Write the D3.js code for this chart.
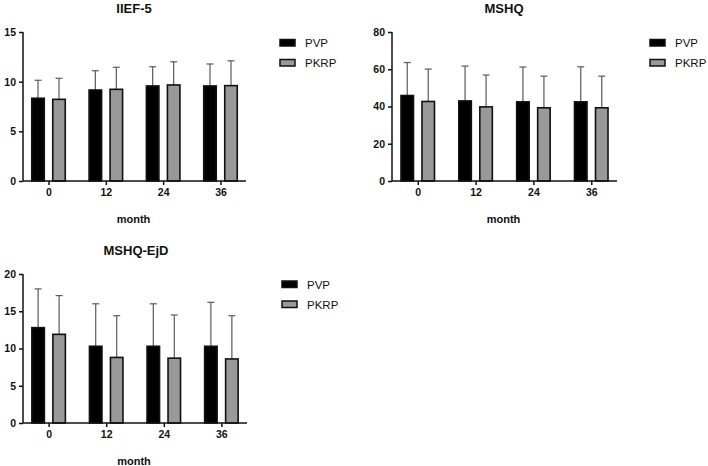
<!DOCTYPE html>
<html>
<head>
<meta charset="utf-8">
<script src="https://cdn.jsdelivr.net/npm/d3@7"></script>
<style>
  html, body { margin: 0; padding: 0; background: #fff; }
  svg { display: block; font-family: "Liberation Sans", Arial, sans-serif; }
</style>
</head>
<body>
<svg id="chart" width="708" height="466"></svg>
<script>
// ---------- DATA ----------
const months = ["0", "12", "24", "36"];
const groups = ["PVP", "PKRP"];

const iiefPVP = [8.33, 9.16, 9.57, 9.57];
const iiefPVPsd = [1.81, 1.94, 1.93, 2.21];
const iiefPKRP = [8.22, 9.23, 9.67, 9.60];
const iiefPKRPsd = [2.12, 2.22, 2.33, 2.50];

const mshqPVP = [45.9, 43.0, 42.5, 42.5];
const mshqPVPsd = [17.7, 18.7, 18.7, 18.8];
const mshqPKRP = [42.7, 39.8, 39.3, 39.3];
const mshqPKRPsd = [17.4, 17.1, 17.0, 17.0];

const ejdPVP = [12.8, 10.3, 10.3, 10.3];
const ejdPVPsd = [5.2, 5.7, 5.7, 5.9];
const ejdPKRP = [11.9, 8.8, 8.7, 8.6];
const ejdPKRPsd = [5.2, 5.6, 5.8, 5.8];

const iiefTicks = [0, 5, 10, 15];
const mshqTicks = [0, 20, 40, 60, 80];
const ejdTicks = [0, 5, 10, 15, 20];

const titles = ["IIEF-5", "MSHQ", "MSHQ-EjD"];
const xLabel = "month";

// ---------- LAYOUT / STYLE ----------
const fills = { PVP: "#000000", PKRP: "#999999" };
const svg = d3.select("#chart");

function panel(cfg) {
  const g = svg.append("g");
  const x = d3.scalePoint().domain(months).range([cfg.x0, cfg.x1]).padding(0.445);
  const xi = d3.scaleBand().domain(groups).range([-17.5, 17.5]).paddingInner(1 / 3);
  const y = d3.scaleLinear().domain([0, cfg.ticks[cfg.ticks.length - 1]]).range([cfg.yB, cfg.yT]);

  const rows = [];
  months.forEach((m, i) => {
    rows.push({ m, grp: "PVP", v: cfg.pvp[i], sd: cfg.pvpSd[i] });
    rows.push({ m, grp: "PKRP", v: cfg.pkrp[i], sd: cfg.pkrpSd[i] });
  });

  // error bars (upper only)
  const eb = g.append("g").attr("stroke", "#5a5a5a").attr("stroke-width", 1.2).attr("fill", "none");
  rows.forEach(r => {
    const cx = x(r.m) + xi(r.grp) + xi.bandwidth() / 2;
    eb.append("line").attr("x1", cx).attr("x2", cx).attr("y1", y(r.v)).attr("y2", y(r.v + r.sd));
    eb.append("line").attr("x1", cx - 3.5).attr("x2", cx + 3.5).attr("y1", y(r.v + r.sd)).attr("y2", y(r.v + r.sd));
  });

  // bars
  g.append("g").selectAll("rect").data(rows).join("rect")
    .attr("x", d => x(d.m) + xi(d.grp) + 0.75)
    .attr("y", d => y(d.v))
    .attr("width", xi.bandwidth() - 1.5)
    .attr("height", d => y(0) - y(d.v))
    .attr("fill", d => fills[d.grp])
    .attr("stroke", "#111")
    .attr("stroke-width", 1.6);

  // y axis
  const ya = g.append("g").attr("transform", `translate(${cfg.x0},0)`)
    .call(d3.axisLeft(y).tickValues(cfg.ticks).tickSize(4).tickPadding(3).tickFormat(d3.format("d")));
  ya.select(".domain").attr("stroke", "#111").attr("stroke-width", 1.5).attr("d", `M0,${cfg.yT}V${cfg.yB}`);
  ya.selectAll(".tick line").attr("stroke", "#111").attr("stroke-width", 1.5);
  ya.selectAll("text").attr("font-size", 10.5).attr("font-weight", "bold").attr("fill", "#111");

  // x axis
  const xa = g.append("g").attr("transform", `translate(0,${cfg.yB})`)
    .call(d3.axisBottom(x).tickSize(4).tickPadding(4));
  xa.select(".domain").attr("stroke", "#111").attr("stroke-width", 1.5).attr("d", `M${cfg.x0},0H${cfg.x1}`);
  xa.selectAll(".tick line").attr("stroke", "#111").attr("stroke-width", 1.5);
  xa.selectAll("text").attr("font-size", 10.5).attr("font-weight", "bold").attr("fill", "#111");

  // x label
  g.append("text").attr("x", (cfg.x0 + cfg.x1) / 2 - 1).attr("y", cfg.yB + 42)
    .attr("text-anchor", "middle").attr("font-size", 11).attr("font-weight", "bold").attr("fill", "#111")
    .text(xLabel);

  // title
  g.append("text").attr("x", cfg.tx).attr("y", cfg.yT - 19)
    .attr("text-anchor", "middle").attr("font-size", 13).attr("font-weight", "bold").attr("fill", "#111")
    .text(cfg.title);

  // legend
  groups.forEach((grp, i) => {
    const ly = cfg.ly + i * 20;
    g.append("rect").attr("x", cfg.lx).attr("y", ly).attr("width", 15).attr("height", 6.5)
      .attr("fill", fills[grp]).attr("stroke", "#111").attr("stroke-width", 1.5);
    g.append("text").attr("x", cfg.lx + 25).attr("y", ly + 3.5).attr("dy", "0.35em")
      .attr("font-size", 11.5).attr("fill", "#111").text(grp);
  });
}

panel({ title: titles[0], x0: 23, x1: 246, yT: 32, yB: 181, tx: 134, lx: 280, ly: 39.5,
  ticks: iiefTicks, pvp: iiefPVP, pvpSd: iiefPVPsd, pkrp: iiefPKRP, pkrpSd: iiefPKRPsd });
panel({ title: titles[1], x0: 392, x1: 617, yT: 32, yB: 181, tx: 504, lx: 650, ly: 39.5,
  ticks: mshqTicks, pvp: mshqPVP, pvpSd: mshqPVPsd, pkrp: mshqPKRP, pkrpSd: mshqPKRPsd });
panel({ title: titles[2], x0: 23, x1: 247, yT: 274, yB: 423, tx: 136, lx: 282, ly: 281,
  ticks: ejdTicks, pvp: ejdPVP, pvpSd: ejdPVPsd, pkrp: ejdPKRP, pkrpSd: ejdPKRPsd });
</script>
</body>
</html>
